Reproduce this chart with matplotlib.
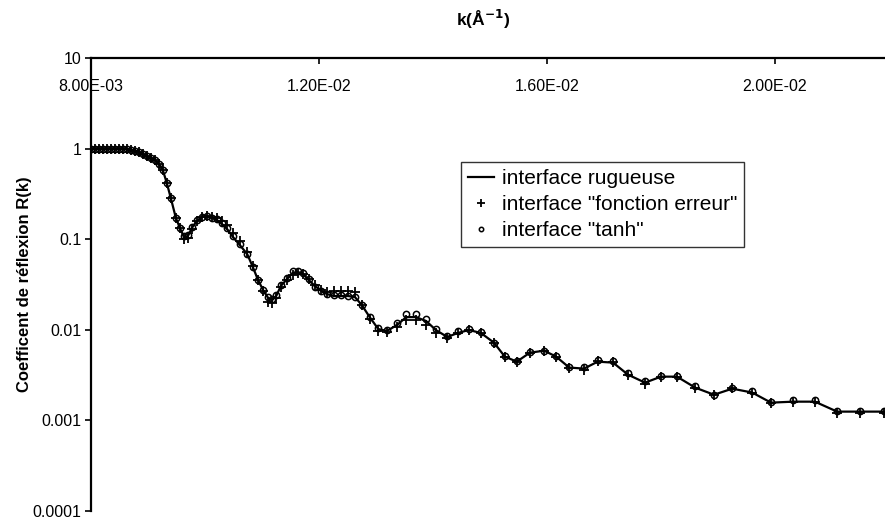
import matplotlib
matplotlib.use('Agg')
import matplotlib.pyplot as plt
import matplotlib.ticker as ticker
import numpy as np

plt.rcParams['font.family'] = ['Liberation Sans', 'DejaVu Sans']

# k values (1/Angstrom)
k = [0.00800, 0.00807, 0.00814, 0.00821, 0.00828, 0.00835, 0.00842, 0.00849, 0.00856, 0.00863,
     0.00870, 0.00877, 0.00884, 0.00891, 0.00898, 0.00905, 0.00912, 0.00919, 0.00926, 0.00933,
     0.00940, 0.00949, 0.00956, 0.00963, 0.00970, 0.00977, 0.00986, 0.00995, 0.01004, 0.01012,
     0.01021, 0.01030, 0.01039, 0.01049, 0.01061, 0.01074, 0.01084, 0.01093, 0.01102, 0.01111,
     0.01118, 0.01125, 0.01133, 0.01144, 0.01154, 0.01163, 0.01172, 0.01182, 0.01193, 0.01204,
     0.01214, 0.01226, 0.01239, 0.01251, 0.01263, 0.01275, 0.01289, 0.01304, 0.01319, 0.01337,
     0.01353, 0.01370, 0.01388, 0.01405, 0.01425, 0.01444, 0.01463, 0.01484, 0.01507, 0.01526,
     0.01547, 0.01570, 0.01595, 0.01616, 0.01639, 0.01665, 0.01689, 0.01716, 0.01742, 0.01772,
     0.01800, 0.01828, 0.01860, 0.01893, 0.01925, 0.01960, 0.01993, 0.02032, 0.02070, 0.02109,
     0.02149, 0.02191]

# interface rugueuse (line)
r_rough = [1.0, 1.0, 1.0, 1.0, 1.0, 1.0, 1.0, 1.0, 1.0, 0.99,
           0.965, 0.94, 0.92, 0.87, 0.83, 0.79, 0.75, 0.68, 0.58, 0.417,
           0.285, 0.171, 0.133, 0.106, 0.108, 0.133, 0.159, 0.176, 0.180, 0.171,
           0.163, 0.147, 0.129, 0.106, 0.0863, 0.0687, 0.0493, 0.0355, 0.0275, 0.0224,
           0.0213, 0.0236, 0.0304, 0.0363, 0.0424, 0.0435, 0.0413, 0.0355, 0.0304, 0.0268,
           0.0248, 0.0236, 0.0236, 0.0236, 0.0230, 0.0188, 0.0138, 0.0102, 0.0097, 0.0113,
           0.0138, 0.0138, 0.0125, 0.00995, 0.00834, 0.00923, 0.00995, 0.00923, 0.00721, 0.00506,
           0.00445, 0.00559, 0.00588, 0.00506, 0.00383, 0.00373, 0.00445, 0.00434, 0.00320, 0.00261,
           0.00304, 0.00304, 0.00230, 0.00192, 0.00224, 0.00203, 0.00157, 0.00161, 0.00161, 0.00125,
           0.00125, 0.00125]

# interface "fonction erreur" (+)
r_erf = [1.0, 1.0, 1.0, 1.0, 1.0, 1.0, 1.0, 1.0, 1.0, 0.99,
         0.965, 0.94, 0.92, 0.87, 0.83, 0.79, 0.75, 0.68, 0.58, 0.417,
         0.285, 0.171, 0.133, 0.100, 0.104, 0.130, 0.160, 0.178, 0.180, 0.175,
         0.170, 0.158, 0.142, 0.118, 0.095, 0.072, 0.050, 0.0355, 0.0265, 0.0205,
         0.0200, 0.0225, 0.0295, 0.0350, 0.0405, 0.0420, 0.0410, 0.0360, 0.0310, 0.0275,
         0.0262, 0.0266, 0.0268, 0.0268, 0.0262, 0.0190, 0.0130, 0.0097, 0.0094, 0.0108,
         0.0127, 0.0127, 0.0112, 0.0092, 0.0082, 0.0092, 0.0100, 0.0092, 0.0072, 0.0050,
         0.0044, 0.0056, 0.0059, 0.0050, 0.0038, 0.0036, 0.0045, 0.0044, 0.0032, 0.0025,
         0.0030, 0.0030, 0.0023, 0.0019, 0.0023, 0.0020, 0.00155, 0.00158, 0.00158, 0.00122,
         0.00122, 0.00122]

# interface "tanh" (o)
r_tanh = [1.0, 1.0, 1.0, 1.0, 1.0, 1.0, 1.0, 1.0, 1.0, 0.99,
          0.965, 0.94, 0.92, 0.87, 0.83, 0.79, 0.75, 0.68, 0.58, 0.417,
          0.285, 0.171, 0.133, 0.108, 0.110, 0.135, 0.162, 0.178, 0.182, 0.173,
          0.165, 0.150, 0.132, 0.108, 0.088, 0.069, 0.049, 0.0355, 0.0278, 0.0228,
          0.0218, 0.0240, 0.0310, 0.0370, 0.0440, 0.0450, 0.0420, 0.0360, 0.0300, 0.0265,
          0.0250, 0.0240, 0.0240, 0.0238, 0.0230, 0.0190, 0.0140, 0.0104, 0.0100, 0.0118,
          0.0148, 0.0150, 0.0132, 0.0102, 0.0085, 0.0096, 0.0102, 0.0095, 0.0072, 0.0051,
          0.0045, 0.0057, 0.0059, 0.0052, 0.0039, 0.0039, 0.0046, 0.0045, 0.0033, 0.0027,
          0.0031, 0.0031, 0.0024, 0.0019, 0.0023, 0.0021, 0.0016, 0.00168, 0.00168, 0.00128,
          0.00128, 0.00128]

x_ticks = [0.008, 0.012, 0.016, 0.020]
y_ticks = [1e-4, 1e-3, 1e-2, 1e-1, 1, 10]
y_labels = ['0.0001', '0.001', '0.01', '0.1', '1', '10']

fig = plt.figure(figsize=(8.85, 5.2), dpi=100)
ax = fig.add_axes([0.1028, 0.0173, 0.8972, 0.8712])

ax.plot(k, r_rough, '-', color='black', lw=1.6, label='interface rugueuse')
ax.plot(k, r_erf, '+', color='black', ms=7.5, mew=1.3, label='interface "fonction erreur"')
ax.plot(k, r_tanh, 'o', color='black', ms=4.5, mew=1.1, mfc='none', label='interface "tanh"')

ax.set_yscale('log')
ax.set_ylim(1e-4, 10)
ax.set_xlim(0.008, 0.02193)

ax.set_yticks(y_ticks)
ax.set_yticklabels(y_labels)
ax.yaxis.set_minor_locator(ticker.NullLocator())
ax.tick_params(axis='y', direction='out', length=4, width=1.2, labelsize=11.5, pad=3)

ax.set_xticks(x_ticks)
ax.set_xticklabels(['%.2E' % v for v in x_ticks])
ax.xaxis.set_ticks_position('top')
ax.tick_params(axis='x', direction='in', length=4, width=1.2, labelsize=11.5,
               top=True, bottom=False, labeltop=True, labelbottom=False, pad=-26)

for side in ['right', 'bottom']:
    ax.spines[side].set_visible(False)
for side in ['left', 'top']:
    ax.spines[side].set_linewidth(1.6)
    ax.spines[side].set_color('black')

ax.set_ylabel('Coefficent de réflexion R(k)', fontsize=12, fontweight='bold', labelpad=0)
fig.text(0.546, 0.962, r'k(Å$^{\mathbf{-1}}$)', ha='center', va='center',
         fontsize=12.5, fontweight='bold')

leg = ax.legend(loc='upper left', bbox_to_anchor=(0.466, 0.770), borderaxespad=0,
                fontsize=15, frameon=True, fancybox=False, handlelength=1.25,
                handletextpad=0.35, labelspacing=0.32, borderpad=0.35, markerscale=0.7)
leg.get_frame().set_edgecolor('black')
leg.get_frame().set_linewidth(1.0)

fig.savefig('out.png', dpi=100)
